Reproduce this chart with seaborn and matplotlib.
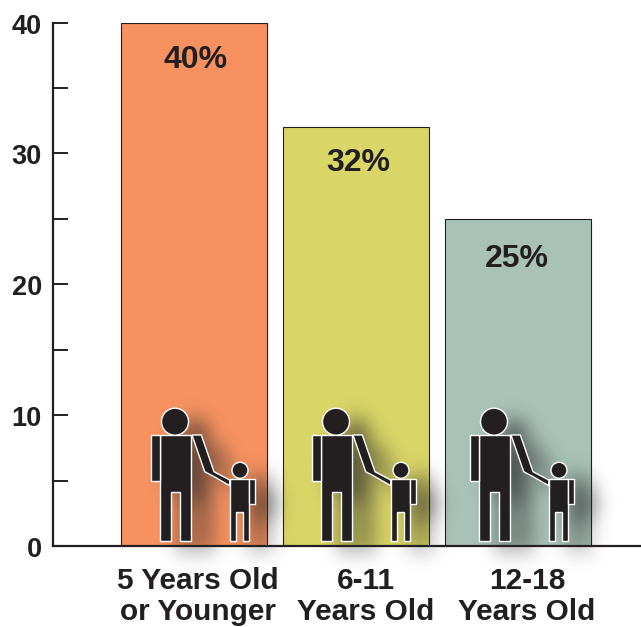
# Bar chart of age groups with parent/child icons
import numpy as np
import pandas as pd
import seaborn as sns
import matplotlib.pyplot as plt
from matplotlib.patches import Circle, Polygon
from matplotlib.path import Path
from matplotlib.ticker import MultipleLocator
from matplotlib.transforms import ScaledTranslation

categories = ["5 Years Old\nor Younger", "6-11\nYears Old", "12-18\nYears Old"]
values = [40, 32, 25]
value_labels = ["40%", "32%", "25%"]
bar_colors = ["#F79260", "#D9D566", "#A9C2B8"]
y_ticks = [0, 10, 20, 30, 40]
label_shift_px = [4, 10, 9]
value_shift_px = [2, 2, -1]
value_drop_px = [37.5, 36, 40]
icon_shift_px = [175, 336, 494]
dark = "#231F20"

W, H = 641, 627
plt.rcParams["font.family"] = ["Liberation Sans", "DejaVu Sans"]
plt.rcParams["font.weight"] = "bold"

df = pd.DataFrame({"group": categories, "share": values})

fig = plt.figure(figsize=(W / 100, H / 100), dpi=100)
ax = fig.add_axes([53 / W, (H - 546) / H, (W - 53) / W, (546 - 22.5) / H])
sns.barplot(data=df, x="group", y="share", hue="group", palette=bar_colors,
            saturation=1, width=0.9, edgecolor=dark, linewidth=0.8,
            legend=False, ax=ax)
ax.set_xlim((53 - 194) / 162, (641 - 194) / 162)
ax.set_ylim(0, 40)
ax.set_xlabel("")
ax.set_ylabel("")
sns.despine(ax=ax)
for side in ["left", "bottom"]:
    ax.spines[side].set_linewidth(1.6)
    ax.spines[side].set_color(dark)

ax.set_yticks(y_ticks)
ax.yaxis.set_minor_locator(MultipleLocator(5))
ax.tick_params(axis="y", which="both", direction="in", length=10.8, width=1.4, color=dark)
ax.tick_params(axis="y", which="major", labelsize=19.5, labelcolor=dark, pad=8)
ax.tick_params(axis="x", length=0, labelsize=21.4, labelcolor=dark, pad=15)
for lab in ax.get_yticklabels():
    lab.set_transform(lab.get_transform() + ScaledTranslation(0, -1 / 100, fig.dpi_scale_trans))

# labels are not centred under the bars in the original
ax.set_xticks(range(len(categories)))
ax.set_xticklabels(categories, linespacing=1.15)
for lab, dx in zip(ax.get_xticklabels(), label_shift_px):
    lab.set_transform(lab.get_transform() + ScaledTranslation(dx / 100, 0, fig.dpi_scale_trans))

for i, v in enumerate(values):
    ax.annotate(value_labels[i], (i, v), xytext=(value_shift_px[i] * 0.72, -value_drop_px[i] * 0.72),
                textcoords="offset points", ha="center", va="center", fontsize=23, color=dark)

# overlay in pixel coordinates for the icons and their soft shadow
over = fig.add_axes([0, 0, 1, 1], facecolor="none")
over.set_xlim(0, W)
over.set_ylim(H, 0)
over.axis("off")

# icon outlines: x relative to the adult's head, y in picture pixels
shapes = [
    [(-15, 435), (16.4, 435), (16.4, 541), (5.4, 541), (5.4, 491.7), (-4.3, 491.7), (-4.3, 541), (-15, 541)],
    [(-24, 435), (-15, 435), (-15, 481), (-24, 481)],
    [(17, 435), (26.3, 435), (39, 471.7), (54.7, 480), (54.7, 485.7), (39.7, 477), (29.7, 471.7)],
    [(55.4, 478.7), (74, 478.7), (74, 541), (68, 541), (68, 511.7), (61.3, 511.7), (61.3, 541), (55.4, 541)],
    [(74, 478.7), (80, 478.7), (80, 504.3), (74, 504.3)],
]
heads = [(0, 421.7, 13.5), (65, 470.3, 8)]
shadow_dx, shadow_dy = 20, 11


def icon_mask(xx, yy, x0):
    m = np.zeros(xx.shape, bool)
    pts = np.c_[xx.ravel(), yy.ravel()]
    for s in shapes:
        m |= Path([(x0 + a, b) for a, b in s] + [(x0 + s[0][0], s[0][1])]).contains_points(pts).reshape(xx.shape)
    for a, b, r in heads:
        m |= (xx - x0 - a) ** 2 + (yy - b) ** 2 <= r ** 2
    return m


def blur(img, sigma):
    r = int(3 * sigma)
    k = np.exp(-0.5 * (np.arange(-r, r + 1) / sigma) ** 2)
    k /= k.sum()
    img = np.apply_along_axis(lambda c: np.convolve(c, k, mode="same"), 0, img)
    return np.apply_along_axis(lambda c: np.convolve(c, k, mode="same"), 1, img)


yy, xx = np.mgrid[0:H, 0:W]
mask = np.zeros((H, W))
for x0 in icon_shift_px:
    mask = np.maximum(mask, icon_mask(xx + 0.5 - shadow_dx, yy + 0.5 - shadow_dy, x0).astype(float))
rgba = np.zeros((H, W, 4))
rgba[..., :3] = 0.16
rgba[..., 3] = blur(mask, 10) * 0.7
over.imshow(rgba, extent=(0, W, H, 0), aspect="auto", zorder=1, interpolation="bilinear")
over.set_xlim(0, W)
over.set_ylim(H, 0)

for x0 in icon_shift_px:
    for s in shapes:
        over.add_patch(Polygon([(x0 + a, b) for a, b in s], fc=dark, ec="white", lw=1.0, zorder=3))
    for a, b, r in heads:
        over.add_patch(Circle((x0 + a, b), r, fc=dark, ec="white", lw=1.0, zorder=5))

fig.savefig("out.png", dpi=100)
